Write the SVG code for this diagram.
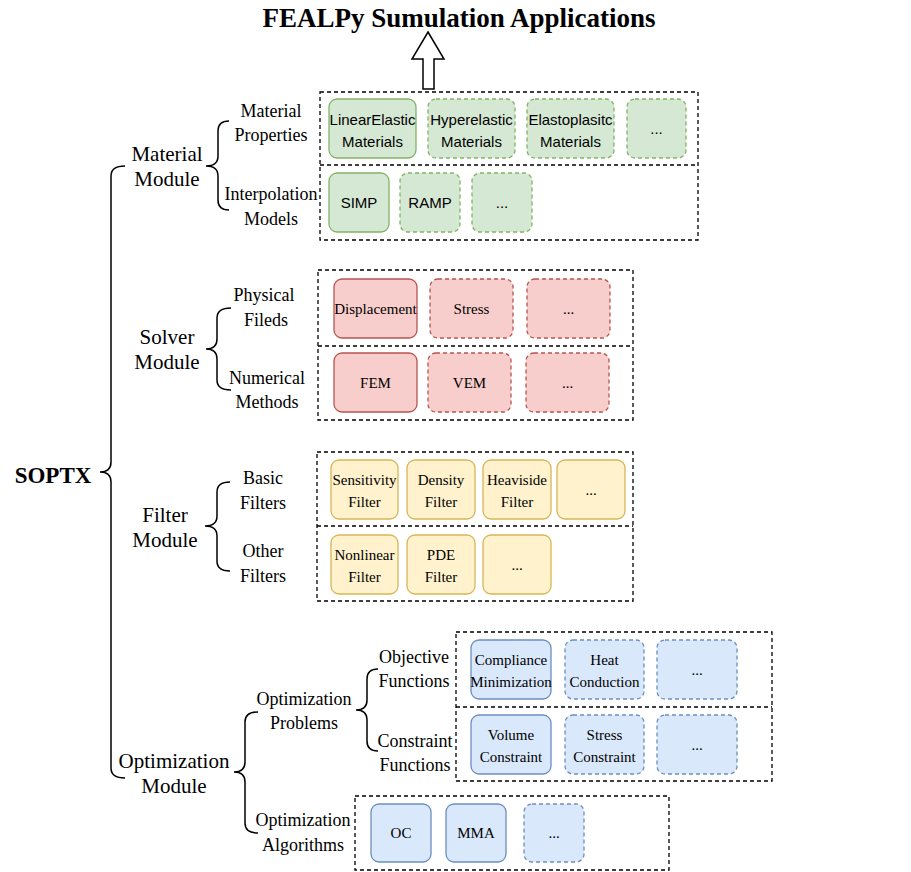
<svg xmlns="http://www.w3.org/2000/svg" width="911" height="872" viewBox="0 0 911 872">
<style>
.bg{fill:#ffffff}
.frame{fill:none;stroke:#000;stroke-width:1.3;stroke-dasharray:4 3}
.brace{fill:none;stroke:#000;stroke-width:1.5}
.g{fill:#d5e8d4;stroke:#82b366;stroke-width:1.3}
.r{fill:#f8cecc;stroke:#b85450;stroke-width:1.3}
.y{fill:#fff2cc;stroke:#d6b656;stroke-width:1.3}
.b{fill:#dae8fc;stroke:#6c8ebf;stroke-width:1.3}
.d{stroke-dasharray:4 3}
.sans{font-family:"Liberation Sans",Arial,sans-serif;font-size:15px;fill:#000;text-anchor:middle}
.ser{font-family:"Liberation Serif","Times New Roman",serif;font-size:15px;fill:#000;text-anchor:middle}
.lab{font-family:"Liberation Serif","Times New Roman",serif;font-size:18px;fill:#000;text-anchor:middle}
.mod{font-family:"Liberation Serif","Times New Roman",serif;font-size:21px;fill:#000;text-anchor:middle}
.title{font-family:"Liberation Serif","Times New Roman",serif;font-size:27px;font-weight:bold;fill:#000;text-anchor:middle}
.root{font-family:"Liberation Serif","Times New Roman",serif;font-size:23px;font-weight:bold;fill:#000;text-anchor:middle}
</style>
<rect class="bg" x="0" y="0" width="911" height="872"/>

<g id="title"><text class="title" x="459" y="27">FEALPy Sumulation Applications</text></g>
<g id="soptx"><text class="root" x="53" y="483">SOPTX</text></g>

<!-- Material module -->
<g id="material-module"><text class="mod" x="167" y="161">Material</text><text class="mod" x="167" y="186">Module</text></g>
<g id="material-properties-label"><text class="lab" x="271" y="117">Material</text><text class="lab" x="271" y="141">Properties</text></g>
<g id="interpolation-label"><text class="lab" x="271" y="200">Interpolation</text><text class="lab" x="271" y="225">Models</text></g>
<g id="material-frame"><rect class="frame" x="320" y="92" width="378" height="148"/><line class="frame" x1="320" y1="165" x2="698" y2="165"/></g>
<g id="linear-elastic"><rect class="g" x="329" y="99" width="87" height="59" rx="8"/><text class="sans" x="372.5" y="125">LinearElastic</text><text class="sans" x="372.5" y="147">Materials</text></g>
<g id="hyperelastic"><rect class="g d" x="428" y="99" width="87" height="59" rx="8"/><text class="sans" x="471.5" y="125">Hyperelastic</text><text class="sans" x="471.5" y="147">Materials</text></g>
<g id="elastoplastic"><rect class="g d" x="527" y="99" width="87" height="59" rx="8"/><text class="sans" x="570.5" y="125">Elastoplasitc</text><text class="sans" x="570.5" y="147">Materials</text></g>
<g id="material-more"><rect class="g d" x="627" y="99" width="59" height="59" rx="8"/><text class="sans" x="656.5" y="134">...</text></g>
<g id="simp"><rect class="g" x="329" y="173" width="60" height="59" rx="8"/><text class="sans" x="359" y="208">SIMP</text></g>
<g id="ramp"><rect class="g d" x="400" y="173" width="60" height="59" rx="8"/><text class="sans" x="430" y="208">RAMP</text></g>
<g id="interp-more"><rect class="g d" x="472" y="173" width="60" height="59" rx="8"/><text class="sans" x="502" y="208">...</text></g>

<!-- Solver module -->
<g id="solver-module"><text class="mod" x="167" y="344">Solver</text><text class="mod" x="167" y="369">Module</text></g>
<g id="physical-label"><text class="lab" x="264" y="301">Physical</text><text class="lab" x="266" y="326">Fileds</text></g>
<g id="numerical-label"><text class="lab" x="267" y="384">Numerical</text><text class="lab" x="267" y="408">Methods</text></g>
<g id="solver-frame"><rect class="frame" x="318" y="270" width="315" height="150"/><line class="frame" x1="318" y1="346" x2="633" y2="346"/></g>
<g id="displacement"><rect class="r" x="334" y="279" width="83" height="59" rx="8"/><text class="ser" x="375.5" y="314">Displacement</text></g>
<g id="stress"><rect class="r d" x="430" y="279" width="83" height="59" rx="8"/><text class="ser" x="471.5" y="314">Stress</text></g>
<g id="field-more"><rect class="r d" x="527" y="279" width="83" height="59" rx="8"/><text class="ser" x="568.5" y="314">...</text></g>
<g id="fem"><rect class="r" x="334" y="353" width="83" height="59" rx="8"/><text class="ser" x="375.5" y="388">FEM</text></g>
<g id="vem"><rect class="r d" x="428" y="353" width="83" height="59" rx="8"/><text class="ser" x="469.5" y="388">VEM</text></g>
<g id="method-more"><rect class="r d" x="526" y="353" width="83" height="59" rx="8"/><text class="ser" x="567.5" y="388">...</text></g>

<!-- Filter module -->
<g id="filter-module"><text class="mod" x="165" y="522">Filter</text><text class="mod" x="165" y="547">Module</text></g>
<g id="basic-label"><text class="lab" x="263" y="484">Basic</text><text class="lab" x="263" y="509">Filters</text></g>
<g id="other-label"><text class="lab" x="263" y="557">Other</text><text class="lab" x="263" y="582">Filters</text></g>
<g id="filter-frame"><rect class="frame" x="317" y="452" width="316" height="149"/><line class="frame" x1="317" y1="526" x2="633" y2="526"/></g>
<g id="sensitivity"><rect class="y" x="331" y="460" width="67" height="59" rx="8"/><text class="ser" x="364.5" y="485">Sensitivity</text><text class="ser" x="364.5" y="507">Filter</text></g>
<g id="density"><rect class="y" x="407" y="460" width="68" height="59" rx="8"/><text class="ser" x="441" y="485">Density</text><text class="ser" x="441" y="507">Filter</text></g>
<g id="heaviside"><rect class="y" x="483" y="460" width="68" height="59" rx="8"/><text class="ser" x="517" y="485">Heaviside</text><text class="ser" x="517" y="507">Filter</text></g>
<g id="basic-more"><rect class="y" x="557" y="460" width="68" height="59" rx="8"/><text class="ser" x="591" y="495">...</text></g>
<g id="nonlinear"><rect class="y" x="331" y="535" width="67" height="59" rx="8"/><text class="ser" x="364.5" y="560">Nonlinear</text><text class="ser" x="364.5" y="582">Filter</text></g>
<g id="pde"><rect class="y" x="407" y="535" width="68" height="59" rx="8"/><text class="ser" x="441" y="560">PDE</text><text class="ser" x="441" y="582">Filter</text></g>
<g id="other-more"><rect class="y" x="483" y="535" width="68" height="59" rx="8"/><text class="ser" x="517" y="570">...</text></g>

<!-- Optimization module -->
<g id="optimization-module"><text class="mod" x="174" y="768">Optimization</text><text class="mod" x="174" y="793">Module</text></g>
<g id="problems-label"><text class="lab" x="304" y="705">Optimization</text><text class="lab" x="304" y="729">Problems</text></g>
<g id="algorithms-label"><text class="lab" x="303" y="826">Optimization</text><text class="lab" x="303" y="851">Algorithms</text></g>
<g id="objective-label"><text class="lab" x="414" y="663">Objective</text><text class="lab" x="414" y="687">Functions</text></g>
<g id="constraint-label"><text class="lab" x="415" y="747">Constraint</text><text class="lab" x="415" y="771">Functions</text></g>
<g id="problems-frame"><rect class="frame" x="456" y="632" width="316" height="149"/><line class="frame" x1="456" y1="707" x2="772" y2="707"/></g>
<g id="compliance"><rect class="b" x="471" y="640" width="80" height="59" rx="8"/><text class="ser" x="511" y="665">Compliance</text><text class="ser" x="511" y="687">Minimization</text></g>
<g id="heat"><rect class="b d" x="565" y="640" width="79" height="59" rx="8"/><text class="ser" x="604.5" y="665">Heat</text><text class="ser" x="604.5" y="687">Conduction</text></g>
<g id="objective-more"><rect class="b d" x="657" y="640" width="80" height="59" rx="8"/><text class="ser" x="697" y="675">...</text></g>
<g id="volume"><rect class="b" x="471" y="715" width="80" height="59" rx="8"/><text class="ser" x="511" y="740">Volume</text><text class="ser" x="511" y="762">Constraint</text></g>
<g id="stress-constraint"><rect class="b d" x="565" y="715" width="79" height="59" rx="8"/><text class="ser" x="604.5" y="740">Stress</text><text class="ser" x="604.5" y="762">Constraint</text></g>
<g id="constraint-more"><rect class="b d" x="657" y="715" width="80" height="59" rx="8"/><text class="ser" x="697" y="750">...</text></g>
<g id="algorithms-frame"><rect class="frame" x="355" y="796" width="314" height="74"/></g>
<g id="oc"><rect class="b" x="371" y="804" width="60" height="58" rx="8"/><text class="ser" x="401" y="838">OC</text></g>
<g id="mma"><rect class="b" x="446" y="804" width="60" height="58" rx="8"/><text class="ser" x="476" y="838">MMA</text></g>
<g id="algorithm-more"><rect class="b d" x="524" y="804" width="60" height="58" rx="8"/><text class="ser" x="554" y="838">...</text></g>

<g id="connectors">
<path id="output-arrow" d="M428,32 L444,59 L434,59 L434,89 L423,89 L423,59 L412,59 Z" fill="#fff" stroke="#000" stroke-width="1.5"/>
<path class="brace" d="M125,166 Q111,166 111,176 L111,462 Q111,472 100,472 Q111,472 111,482 L111,768 Q111,778 125,778"/>
<path class="brace" d="M229,121 Q218,121 218,131 L218,156 Q218,166 206,166 Q218,166 218,176 L218,200 Q218,210 229,210"/>
<path class="brace" d="M231,308 Q217,308 217,318 L217,339 Q217,349 206,349 Q217,349 217,359 L217,380 Q217,390 231,390"/>
<path class="brace" d="M230,482 Q217,482 217,492 L217,516 Q217,526 205,526 Q217,526 217,536 L217,561 Q217,571 230,571"/>
<path class="brace" d="M258,712 Q245,712 245,722 L245,762 Q245,772 234,772 Q245,772 245,782 L245,823 Q245,833 258,833"/>
<path class="brace" d="M378,669 Q367,669 367,679 L367,700 Q367,710 356,710 Q367,710 367,720 L367,741 Q367,751 378,751"/>
</g>
</svg>
